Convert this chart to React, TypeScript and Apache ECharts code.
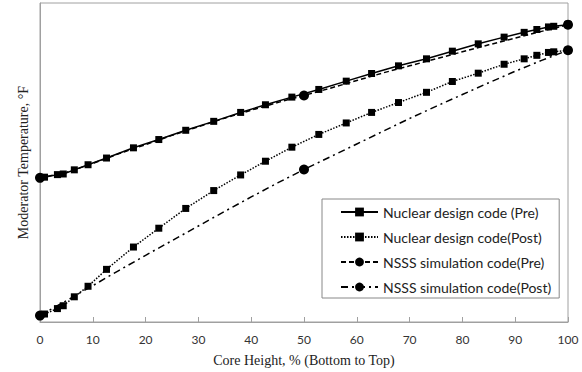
import React, { useEffect, useRef } from "react";
import * as echarts from "echarts";

// Core height (%) nodes for the nuclear design code
const ndX = [0.85, 3.3, 4.4, 6.5, 9.1, 12.6, 17.7, 22.5, 27.6, 32.9, 38, 42.7, 47.7, 52.8, 58, 62.8, 67.9, 73.2, 78.1, 83, 87.9, 91.7, 94.1, 96.3, 97.3, 100];
const ndPre = [45.4, 46.2, 46.4, 47.7, 49.3, 51.4, 54.6, 57.2, 60.1, 62.9, 65.7, 68.1, 70.5, 72.9, 75.5, 77.9, 80.3, 82.5, 84.9, 87.2, 89.3, 90.8, 91.7, 92.5, 92.7, 93.2];
const ndPost = [2.5, 4.2, 5.1, 7.9, 11.2, 16.5, 23.5, 29.4, 35.6, 41.2, 46.1, 50.4, 54.8, 58.8, 62.4, 65.7, 68.8, 72.0, 75.4, 78.0, 80.8, 82.5, 83.6, 84.5, 84.7, 85.2];

// NSSS simulation code
const nsX = [0, 5, 10, 15, 20, 25, 30, 35, 40, 45, 50, 55, 60, 65, 70, 75, 80, 85, 90, 95, 100];
const nsPre = [45.2, 46.9, 49.7, 52.8, 55.6, 58.5, 61.2, 63.9, 66.4, 68.8, 71.0, 73.3, 75.7, 78.1, 80.3, 82.5, 84.7, 86.9, 89.0, 91.1, 93.2];
const nsPost = [2.0, 6.7, 11.4, 16.2, 20.9, 25.5, 30.1, 34.7, 39.2, 43.6, 47.8, 51.8, 55.8, 59.8, 63.8, 67.6, 71.3, 75.0, 78.6, 82.0, 85.2];
const nsMarkerX = [0, 50, 100];

const seriesNames = [
  "Nuclear design code (Pre)",
  "Nuclear design code(Post)",
  "NSSS simulation code(Pre)",
  "NSSS simulation code(Post)",
];

export default function App() {
  const ref = useRef<HTMLDivElement>(null);
  useEffect(() => {
    document.body.style.margin = "0";
    if (!ref.current) return;
    const chart = echarts.init(ref.current, null, { renderer: "svg" });
    const nsData = (ys: number[]) =>
      nsX.map((x, i) =>
        nsMarkerX.includes(x)
          ? { value: [x, ys[i]] }
          : { value: [x, ys[i]], symbol: "none" }
      );
    chart.setOption({
      animation: false,
      backgroundColor: "#fff",
      grid: {
        left: 40,
        top: 3,
        right: 14,
        bottom: 50,
        show: true,
        borderColor: "#a0a0a0",
        borderWidth: 1,
        backgroundColor: "transparent",
      },
      legend: {
        orient: "vertical",
        left: 322,
        top: 199,
        data: seriesNames,
        itemWidth: 37,
        itemHeight: 11,
        itemGap: 11,
        padding: [6, 8, 4, 18],
        borderColor: "#888",
        borderWidth: 1,
        backgroundColor: "#fff",
        textStyle: { fontFamily: "Lato", fontSize: 14, color: "#222" },
      },
      xAxis: {
        type: "value",
        min: 0,
        max: 100,
        interval: 10,
        name: "Core Height, % (Bottom to Top)",
        nameLocation: "middle",
        nameGap: 31,
        nameTextStyle: { fontFamily: "Liberation Serif", fontSize: 14, color: "#222" },
        axisLine: { show: true, lineStyle: { color: "#a0a0a0", width: 1 } },
        axisTick: { show: true, inside: true, length: 5, lineStyle: { color: "#a0a0a0" } },
        axisLabel: { margin: 11, fontFamily: "Lato", fontSize: 12, color: "#333" },
        splitLine: { show: false },
      },
      yAxis: {
        type: "value",
        min: 0,
        max: 100,
        name: "Moderator Temperature, °F",
        nameLocation: "middle",
        nameGap: 10,
        nameTextStyle: { fontFamily: "Liberation Serif", fontSize: 14, color: "#222" },
        axisLine: { show: true, lineStyle: { color: "#a0a0a0", width: 1 } },
        axisTick: { show: false },
        axisLabel: { show: false },
        splitLine: { show: false },
      },
      series: [
        {
          name: seriesNames[0],
          type: "line",
          data: ndX.map((x, i) => [x, ndPre[i]]),
          symbol: "rect",
          symbolSize: 7,
          itemStyle: { color: "#000" },
          lineStyle: { color: "#000", width: 1.5, type: "solid" },
        },
        {
          name: seriesNames[1],
          type: "line",
          data: ndX.map((x, i) => [x, ndPost[i]]),
          symbol: "rect",
          symbolSize: 7,
          itemStyle: { color: "#000" },
          lineStyle: { color: "#000", width: 1.5, type: [1.5, 1.5] },
        },
        {
          name: seriesNames[2],
          type: "line",
          data: nsData(nsPre),
          symbol: "circle",
          symbolSize: 10,
          itemStyle: { color: "#000" },
          lineStyle: { color: "#000", width: 1.5, type: [5, 3] },
        },
        {
          name: seriesNames[3],
          type: "line",
          data: nsData(nsPost),
          symbol: "circle",
          symbolSize: 10,
          itemStyle: { color: "#000" },
          lineStyle: { color: "#000", width: 1.5, type: [7, 4, 2, 4] },
        },
      ],
    });
    return () => chart.dispose();
  }, []);
  return <div ref={ref} style={{ width: 582, height: 372 }} />;
}
